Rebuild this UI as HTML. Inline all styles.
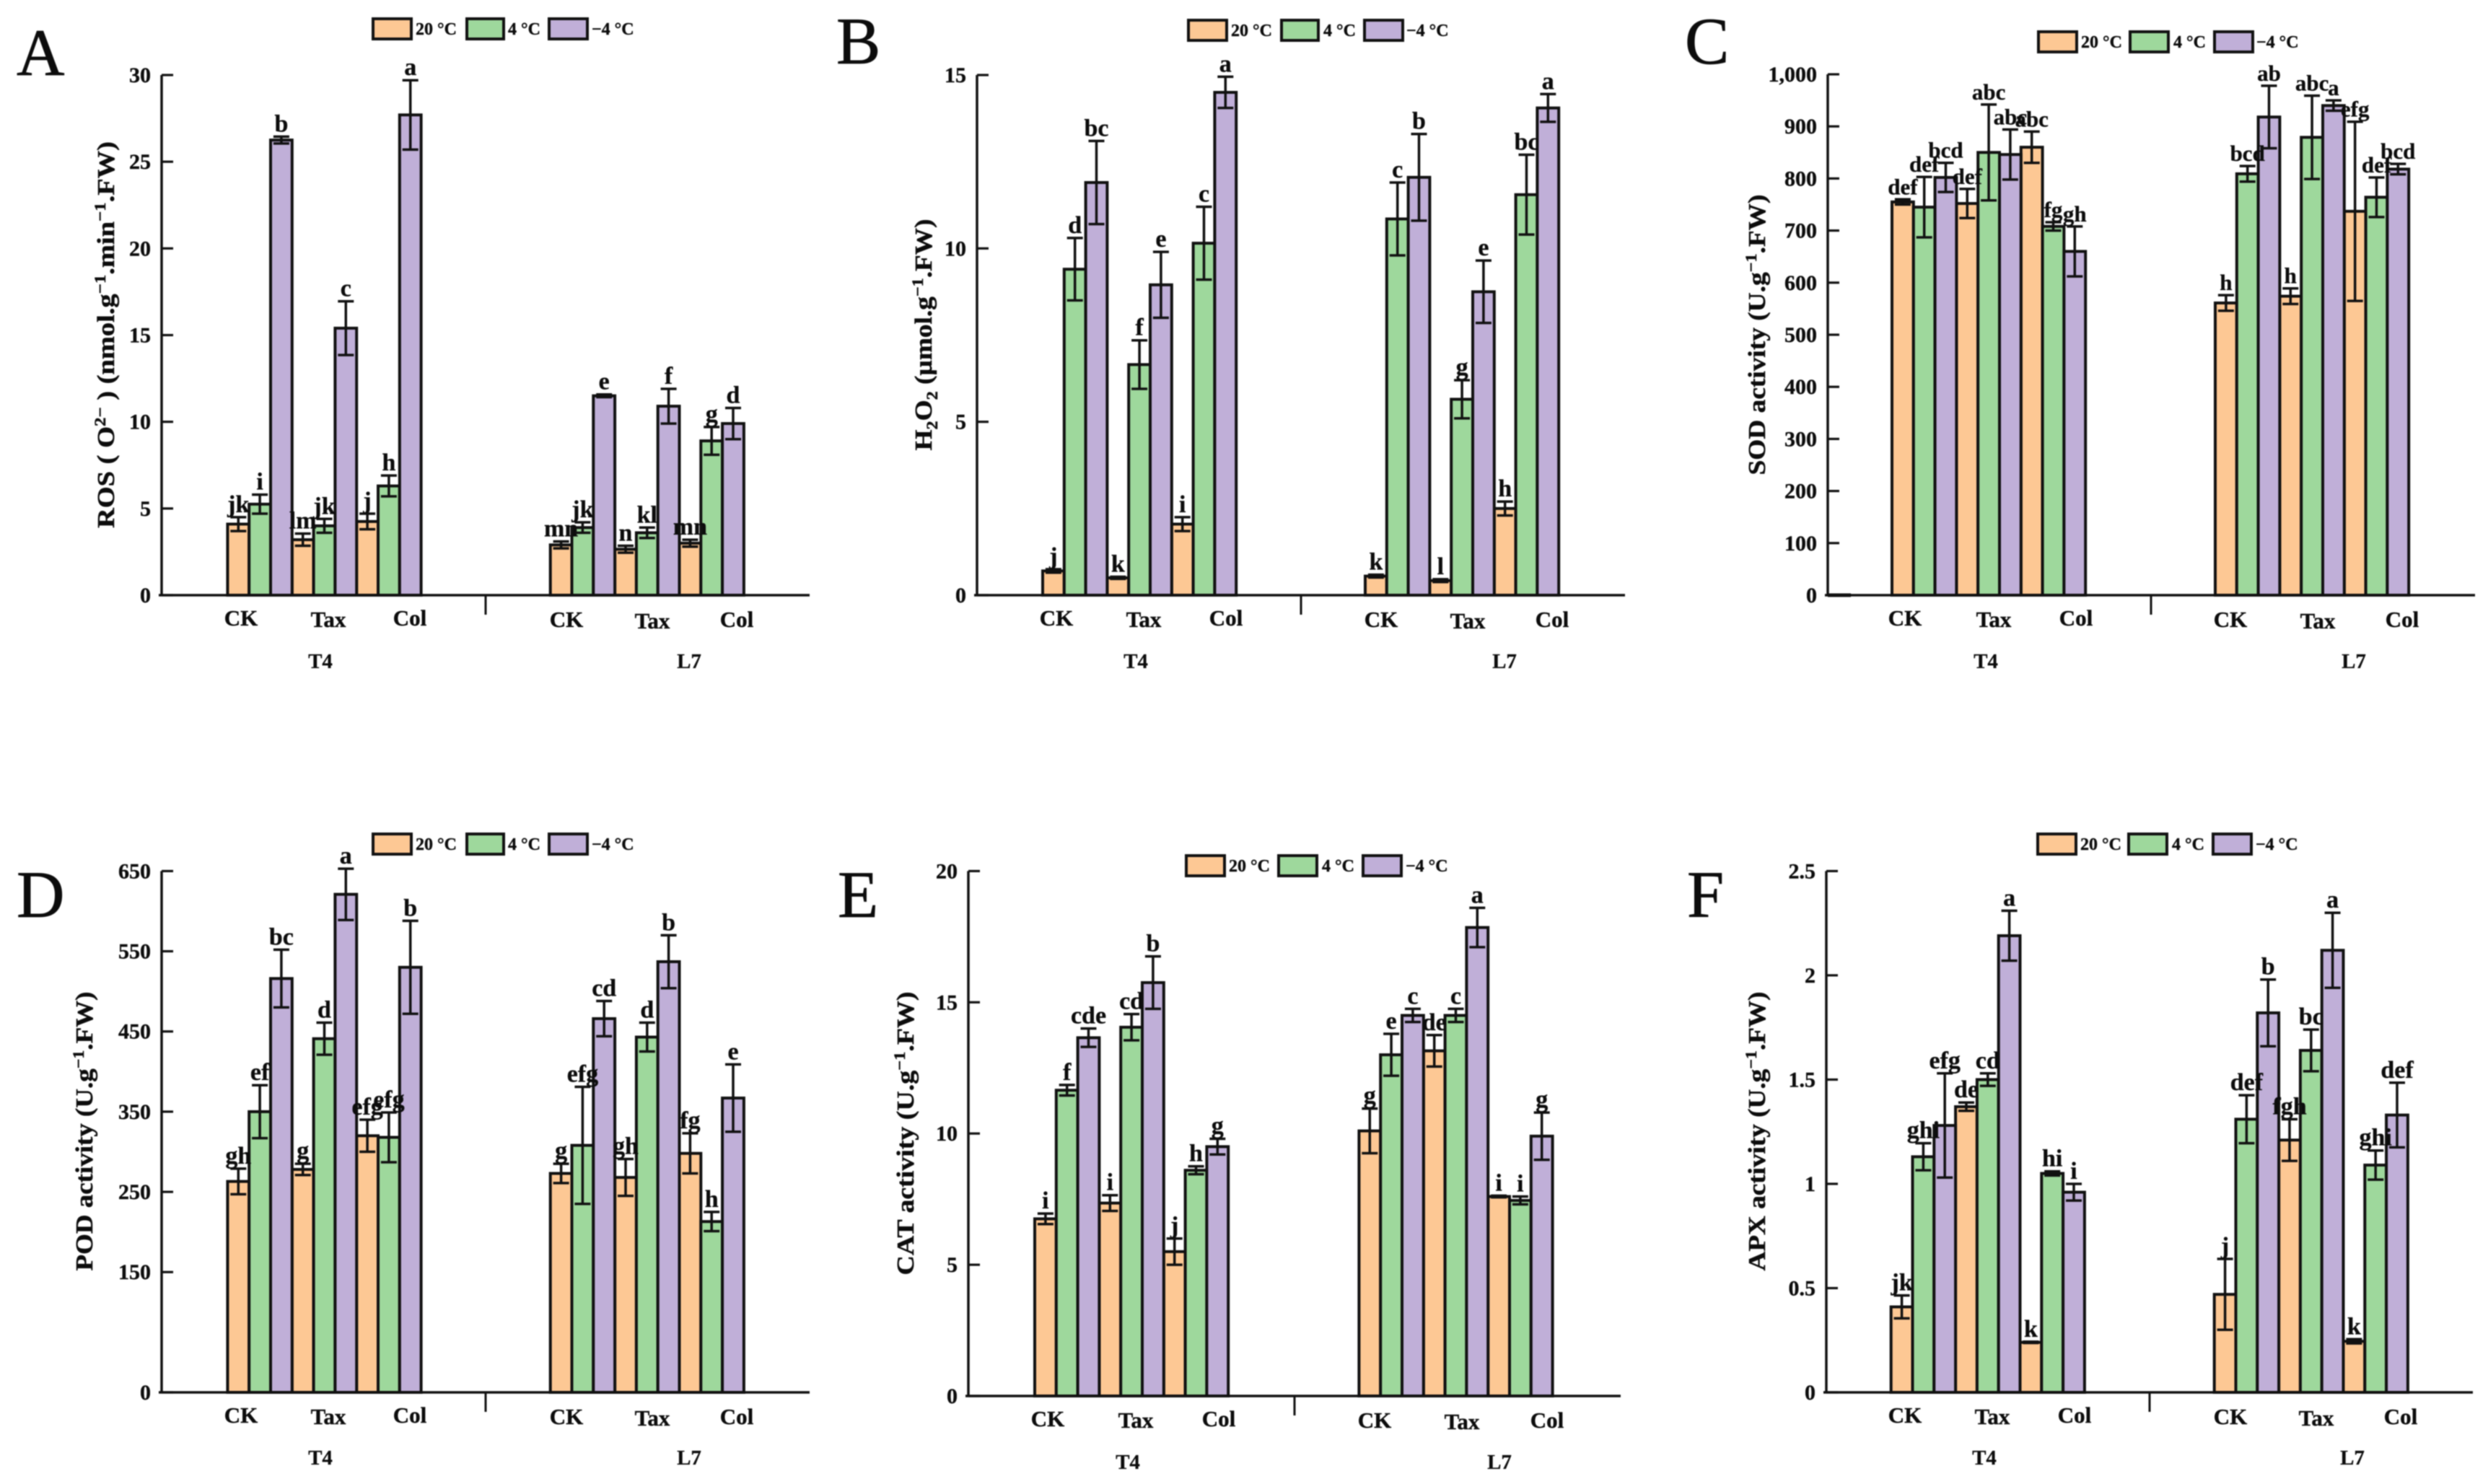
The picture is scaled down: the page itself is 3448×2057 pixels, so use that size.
<!DOCTYPE html>
<html lang="en">
<head>
<meta charset="utf-8">
<title>Antioxidant responses of T4 and L7 under cold treatments</title>
<style>
html,body{margin:0;padding:0;background:#fff;}
#figure{display:block;width:3448px;height:2057px;filter:blur(0.8px);}
text{font-family:"Liberation Serif",serif;fill:#0c0c0c;}
.panel-letter{font-size:92px;font-weight:400;stroke:#111;stroke-width:.8px;}
.cat{font-size:31px;font-weight:700;text-anchor:middle;stroke:#111;stroke-width:.4px;}
.grp{font-size:29px;font-weight:700;text-anchor:middle;stroke:#111;stroke-width:.3px;}
.leg{font-size:24px;font-weight:700;stroke:#111;stroke-width:.4px;}
.ytitle{font-size:34px;font-weight:700;text-anchor:middle;stroke:#111;stroke-width:.5px;}
.sup{font-size:22px;}
.tick-label{font-size:30px;font-weight:700;text-anchor:end;stroke:#111;stroke-width:.4px;}
.sig{font-weight:700;text-anchor:middle;stroke:#111;stroke-width:.3px;}
.sw{stroke:#111;stroke-width:4;}
.c20{fill:#fdc894;}.c4{fill:#9ed89c;}.cm4{fill:#c0afd8;}
</style>
</head>
<body>
<svg id="figure" xmlns="http://www.w3.org/2000/svg" width="3448" height="2057" viewBox="0 0 3448 2057">
<rect width="3448" height="2057" fill="#fff"/>

<g id="panel-a">
<text class="panel-letter" x="23" y="104">A</text>
<g>
<rect class="sw c20" x="517" y="26" width="53" height="28"/><text class="leg" x="576" y="48">20 °C</text>
<rect class="sw c4" x="647" y="26" width="51" height="28"/><text class="leg" x="704" y="48">4 °C</text>
<rect class="sw cm4" x="761" y="26" width="53" height="28"/><text class="leg" x="820" y="48">−4 °C</text>
</g>
<text class="ytitle" transform="translate(158,464) rotate(-90)" textLength="536" lengthAdjust="spacingAndGlyphs">ROS ( O<tspan class="sup" dy="-12">2−</tspan><tspan dy="12"> )  (nmol.g</tspan><tspan class="sup" dy="-12">−1</tspan><tspan dy="12">.min</tspan><tspan class="sup" dy="-12">−1</tspan><tspan dy="12">.FW)</tspan></text>
<text class="cat" x="334" y="867">CK</text>
<text class="cat" x="455" y="869">Tax</text>
<text class="cat" x="568" y="867">Col</text>
<text class="cat" x="785" y="869">CK</text>
<text class="cat" x="904" y="871">Tax</text>
<text class="cat" x="1021" y="869">Col</text>
<text class="grp" x="444" y="926">T4</text>
<text class="grp" x="955" y="926">L7</text>
</g>

<g id="panel-b">
<text class="panel-letter" x="1159" y="88">B</text>
<g>
<rect class="sw c20" x="1647" y="28" width="53" height="28"/><text class="leg" x="1706" y="50">20 °C</text>
<rect class="sw c4" x="1776" y="28" width="51" height="28"/><text class="leg" x="1834" y="50">4 °C</text>
<rect class="sw cm4" x="1891" y="28" width="53" height="28"/><text class="leg" x="1949" y="50">−4 °C</text>
</g>
<text class="ytitle" transform="translate(1291,464) rotate(-90)" textLength="321" lengthAdjust="spacingAndGlyphs">H<tspan class="sup" dy="8">2</tspan><tspan dy="-8">O</tspan><tspan class="sup" dy="8">2</tspan><tspan dy="-8"> (µmol.g</tspan><tspan class="sup" dy="-12">−1</tspan><tspan dy="12">.FW)</tspan></text>
<text class="cat" x="1464" y="867">CK</text>
<text class="cat" x="1585" y="869">Tax</text>
<text class="cat" x="1699" y="867">Col</text>
<text class="cat" x="1914" y="869">CK</text>
<text class="cat" x="2034" y="871">Tax</text>
<text class="cat" x="2151" y="869">Col</text>
<text class="grp" x="1574" y="926">T4</text>
<text class="grp" x="2085" y="926">L7</text>
</g>

<g id="panel-c">
<text class="panel-letter" x="2335" y="88">C</text>
<g>
<rect class="sw c20" x="2825" y="44" width="53" height="28"/><text class="leg" x="2884" y="66">20 °C</text>
<rect class="sw c4" x="2952" y="44" width="53" height="28"/><text class="leg" x="3012" y="66">4 °C</text>
<rect class="sw cm4" x="3069" y="44" width="53" height="28"/><text class="leg" x="3127" y="66">−4 °C</text>
</g>
<text class="ytitle" transform="translate(2446,464) rotate(-90)" textLength="389" lengthAdjust="spacingAndGlyphs">SOD activity (U.g<tspan class="sup" dy="-12">−1</tspan><tspan dy="12">.FW)</tspan></text>
<text class="cat" x="2640" y="867">CK</text>
<text class="cat" x="2763" y="869">Tax</text>
<text class="cat" x="2877" y="867">Col</text>
<text class="cat" x="3091" y="869">CK</text>
<text class="cat" x="3212" y="871">Tax</text>
<text class="cat" x="3329" y="869">Col</text>
<text class="grp" x="2752" y="926">T4</text>
<text class="grp" x="3262" y="926">L7</text>
<line x1="2533" y1="825" x2="2565" y2="825" stroke="#111" stroke-width="5"/>
</g>

<g id="panel-d">
<text class="panel-letter" x="23" y="1271">D</text>
<g>
<rect class="sw c20" x="517" y="1156" width="53" height="28"/><text class="leg" x="576" y="1178">20 °C</text>
<rect class="sw c4" x="647" y="1156" width="51" height="28"/><text class="leg" x="704" y="1178">4 °C</text>
<rect class="sw cm4" x="761" y="1156" width="53" height="28"/><text class="leg" x="820" y="1178">−4 °C</text>
</g>
<text class="ytitle" transform="translate(128,1568) rotate(-90)" textLength="387" lengthAdjust="spacingAndGlyphs">POD activity (U.g<tspan class="sup" dy="-12">−1</tspan><tspan dy="12">.FW)</tspan></text>
<text class="cat" x="334" y="1972">CK</text>
<text class="cat" x="455" y="1974">Tax</text>
<text class="cat" x="568" y="1972">Col</text>
<text class="cat" x="785" y="1974">CK</text>
<text class="cat" x="904" y="1976">Tax</text>
<text class="cat" x="1021" y="1974">Col</text>
<text class="grp" x="444" y="2030">T4</text>
<text class="grp" x="955" y="2030">L7</text>
</g>

<g id="panel-e">
<text class="panel-letter" x="1161" y="1271">E</text>
<g>
<rect class="sw c20" x="1644" y="1186" width="53" height="28"/><text class="leg" x="1703" y="1208">20 °C</text>
<rect class="sw c4" x="1772" y="1186" width="53" height="28"/><text class="leg" x="1832" y="1208">4 °C</text>
<rect class="sw cm4" x="1889" y="1186" width="53" height="28"/><text class="leg" x="1948" y="1208">−4 °C</text>
</g>
<text class="ytitle" transform="translate(1266,1571) rotate(-90)" textLength="393" lengthAdjust="spacingAndGlyphs">CAT activity (U.g<tspan class="sup" dy="-12">−1</tspan><tspan dy="12">.FW)</tspan></text>
<text class="cat" x="1452" y="1977">CK</text>
<text class="cat" x="1574" y="1979">Tax</text>
<text class="cat" x="1689" y="1977">Col</text>
<text class="cat" x="1905" y="1979">CK</text>
<text class="cat" x="2026" y="1981">Tax</text>
<text class="cat" x="2144" y="1979">Col</text>
<text class="grp" x="1563" y="2036">T4</text>
<text class="grp" x="2078" y="2036">L7</text>
</g>

<g id="panel-f">
<text class="panel-letter" x="2338" y="1271">F</text>
<g>
<rect class="sw c20" x="2824" y="1156" width="53" height="28"/><text class="leg" x="2883" y="1178">20 °C</text>
<rect class="sw c4" x="2950" y="1156" width="53" height="28"/><text class="leg" x="3010" y="1178">4 °C</text>
<rect class="sw cm4" x="3067" y="1156" width="53" height="28"/><text class="leg" x="3126" y="1178">−4 °C</text>
</g>
<text class="ytitle" transform="translate(2446,1568) rotate(-90)" textLength="387" lengthAdjust="spacingAndGlyphs">APX activity (U.g<tspan class="sup" dy="-12">−1</tspan><tspan dy="12">.FW)</tspan></text>
<text class="cat" x="2640" y="1972">CK</text>
<text class="cat" x="2761" y="1974">Tax</text>
<text class="cat" x="2875" y="1972">Col</text>
<text class="cat" x="3091" y="1974">CK</text>
<text class="cat" x="3210" y="1976">Tax</text>
<text class="cat" x="3327" y="1974">Col</text>
<text class="grp" x="2750" y="2030">T4</text>
<text class="grp" x="3260" y="2030">L7</text>
</g>
</svg>

<script>
// Values order in every array: T4-CK, T4-Tax, T4-Col, L7-CK, L7-Tax, L7-Col
const rosTicks = [0, 5, 10, 15, 20, 25, 30];
const rosMean20 = [4.1, 3.2, 4.25, 2.9, 2.65, 3.0];
const rosMean4 = [5.25, 4.0, 6.3, 3.9, 3.6, 8.9];
const rosMeanM4 = [26.25, 15.4, 27.7, 11.5, 10.9, 9.9];
const rosErr20 = [0.4, 0.35, 0.45, 0.2, 0.2, 0.2];
const rosErr4 = [0.55, 0.4, 0.6, 0.3, 0.3, 0.8];
const rosErrM4 = [0.2, 1.55, 2.0, 0.08, 1.0, 0.9];
const rosSig20 = ['jk', 'lm', 'j', 'mn', 'n', 'mn'];
const rosSig4 = ['i', 'jk', 'h', 'jk', 'kl', 'g'];
const rosSigM4 = ['b', 'c', 'a', 'e', 'f', 'd'];

const h2o2Ticks = [0, 5, 10, 15];
const h2o2Mean20 = [0.7, 0.5, 2.05, 0.55, 0.42, 2.5];
const h2o2Mean4 = [9.4, 6.65, 10.15, 10.85, 5.65, 11.55];
const h2o2MeanM4 = [11.9, 8.95, 14.5, 12.05, 8.75, 14.05];
const h2o2Err20 = [0.05, 0.03, 0.2, 0.04, 0.04, 0.2];
const h2o2Err4 = [0.9, 0.7, 1.05, 1.05, 0.55, 1.15];
const h2o2ErrM4 = [1.2, 0.95, 0.45, 1.25, 0.9, 0.4];
const h2o2Sig20 = ['j', 'k', 'i', 'k', 'l', 'h'];
const h2o2Sig4 = ['d', 'f', 'c', 'c', 'g', 'bc'];
const h2o2SigM4 = ['bc', 'e', 'a', 'b', 'e', 'a'];

const sodTicks = [0, 100, 200, 300, 400, 500, 600, 700, 800, 900, 1000];
const sodMean20 = [755, 752, 860, 561, 574, 737];
const sodMean4 = [745, 850, 708, 809, 879, 764];
const sodMeanM4 = [802, 846, 660, 918, 940, 818];
const sodErr20 = [5, 28, 30, 15, 15, 172];
const sodErr4 = [58, 92, 8, 15, 80, 38];
const sodErrM4 = [28, 48, 48, 60, 10, 10];
const sodSig20 = ['def', 'def', 'abc', 'h', 'h', 'efg'];
const sodSig4 = ['def', 'abc', 'fg', 'bcd', 'abc', 'def'];
const sodSigM4 = ['bcd', 'abc', 'gh', 'ab', 'a', 'bcd'];

const podTicks = [0, 150, 250, 350, 450, 550, 650];
const podMean20 = [263, 278, 320, 273, 268, 298];
const podMean4 = [350, 441, 318, 308, 443, 213];
const podMeanM4 = [516, 621, 530, 466, 537, 367];
const podErr20 = [16, 7, 20, 12, 23, 25];
const podErr4 = [33, 20, 31, 73, 18, 12];
const podErrM4 = [36, 32, 58, 22, 33, 42];
const podSig20 = ['gh', 'g', 'efg', 'g', 'gh', 'fg'];
const podSig4 = ['ef', 'd', 'efg', 'efg', 'd', 'h'];
const podSigM4 = ['bc', 'a', 'b', 'cd', 'b', 'e'];

const catTicks = [0, 5, 10, 15, 20];
const catMean20 = [6.75, 7.35, 5.5, 10.1, 13.15, 7.6];
const catMean4 = [11.65, 14.05, 8.6, 13.0, 14.5, 7.45];
const catMeanM4 = [13.65, 15.75, 9.5, 14.5, 17.85, 9.9];
const catErr20 = [0.2, 0.3, 0.5, 0.85, 0.6, 0.03];
const catErr4 = [0.2, 0.5, 0.15, 0.8, 0.25, 0.15];
const catErrM4 = [0.35, 1.0, 0.3, 0.25, 0.75, 0.9];
const catSig20 = ['i', 'i', 'j', 'g', 'de', 'i'];
const catSig4 = ['f', 'cd', 'h', 'e', 'c', 'i'];
const catSigM4 = ['cde', 'b', 'g', 'c', 'a', 'g'];

const apxTicks = [0, 0.5, 1, 1.5, 2, 2.5];
const apxMean20 = [0.41, 1.37, 0.24, 0.47, 1.21, 0.245];
const apxMean4 = [1.13, 1.5, 1.05, 1.31, 1.64, 1.09];
const apxMeanM4 = [1.28, 2.19, 0.96, 1.82, 2.12, 1.33];
const apxErr20 = [0.055, 0.02, 0.003, 0.17, 0.1, 0.01];
const apxErr4 = [0.065, 0.03, 0.01, 0.115, 0.1, 0.07];
const apxErrM4 = [0.25, 0.12, 0.04, 0.16, 0.18, 0.155];
const apxSig20 = ['jk', 'de', 'k', 'j', 'fgh', 'k'];
const apxSig4 = ['ghi', 'cd', 'hi', 'def', 'bc', 'ghi'];
const apxSigM4 = ['efg', 'a', 'i', 'b', 'a', 'def'];

const SVG_NS = 'http://www.w3.org/2000/svg';
const seriesFill = ['#fdc894', '#9ed89c', '#c0afd8'];
const INK = '#111';

function make(parent, tag, attrs) {
  const el = document.createElementNS(SVG_NS, tag);
  for (const k in attrs) el.setAttribute(k, attrs[k]);
  parent.appendChild(el);
  return el;
}

function drawPanel(frame, ticks, means, errs, sigs) {
  const root = document.getElementById(frame.id);
  const yMax = ticks[ticks.length - 1];
  const yScale = function (v) { return frame.y0 - (v / yMax) * (frame.y0 - frame.yTop); };
  const xScale = function (idx, s) {
    const g = idx < 3 ? 0 : 1;
    const t = idx < 3 ? idx : idx - 3;
    return frame.starts[g] + (t * 3 + s) * frame.barW;
  };

  means.forEach(function (series, s) {
    series.forEach(function (v, i) {
      const x = xScale(i, s);
      const el = make(root, 'rect', { x: x, y: yScale(v), width: frame.barW, height: frame.y0 - yScale(v), fill: seriesFill[s], stroke: INK, 'stroke-width': 4 });
      
      
    });
  });

  means.forEach(function (series, s) {
    series.forEach(function (v, i) {
      const cx = xScale(i, s) + frame.barW / 2;
      const hi = yScale(v + errs[s][i]);
      const lo = yScale(v - errs[s][i]);
      const el = make(root, 'path', { d: 'M' + cx + ' ' + hi + 'V' + lo + 'M' + (cx - 11) + ' ' + hi + 'H' + (cx + 11) + 'M' + (cx - 11) + ' ' + lo + 'H' + (cx + 11), fill: 'none', stroke: INK, 'stroke-width': 3.5 });
      
      
      const label = make(root, 'text', { class: 'sig', x: cx, y: hi - 7 });
      label.style.fontSize = frame.sigSize + 'px';
      label.textContent = sigs[s][i];
      
      
    });
  });

  const yAxis = make(root, 'line', { x1: frame.axisX, y1: frame.yTop, x2: frame.axisX, y2: frame.y0, stroke: INK, 'stroke-width': 3.5 });
  
  

  const xAxis = make(root, 'line', { x1: frame.axisX - 4, y1: frame.y0, x2: frame.xEnd, y2: frame.y0, stroke: INK, 'stroke-width': 3.5 });
  
  

  const divider = make(root, 'line', { x1: frame.sep, y1: frame.y0, x2: frame.sep, y2: frame.y0 + 27, stroke: INK, 'stroke-width': 3 });
  
  

  ticks.forEach(function (v) {
    const y = yScale(v);
    const tick = make(root, 'line', { x1: frame.axisX, y1: y, x2: frame.axisX + 16, y2: y, stroke: INK, 'stroke-width': 3.2 });
    
    
    const label = make(root, 'text', { class: 'tick-label', x: frame.axisX - 15, y: y + 10 });
    label.textContent = v.toLocaleString('en-US');
    
    
  });
}

drawPanel({ id: 'panel-a', axisX: 224, yTop: 104, y0: 825, xEnd: 1122, starts: [315.4, 762.7], barW: 29.8, sep: 673, sigSize: 34 }, rosTicks, [rosMean20, rosMean4, rosMeanM4], [rosErr20, rosErr4, rosErrM4], [rosSig20, rosSig4, rosSigM4]);
drawPanel({ id: 'panel-b', axisX: 1354, yTop: 104, y0: 825, xEnd: 2252, starts: [1445, 1892], barW: 29.8, sep: 1803, sigSize: 34 }, h2o2Ticks, [h2o2Mean20, h2o2Mean4, h2o2MeanM4], [h2o2Err20, h2o2Err4, h2o2ErrM4], [h2o2Sig20, h2o2Sig4, h2o2SigM4]);
drawPanel({ id: 'panel-c', axisX: 2533, yTop: 103, y0: 825, xEnd: 3430, starts: [2622, 3070], barW: 29.8, sep: 2981, sigSize: 31 }, sodTicks, [sodMean20, sodMean4, sodMeanM4], [sodErr20, sodErr4, sodErrM4], [sodSig20, sodSig4, sodSigM4]);
drawPanel({ id: 'panel-d', axisX: 224, yTop: 1207.4, y0: 1930, xEnd: 1122, starts: [315.4, 762.7], barW: 29.8, sep: 673, sigSize: 34 }, podTicks, [podMean20, podMean4, podMeanM4], [podErr20, podErr4, podErrM4], [podSig20, podSig4, podSigM4]);
drawPanel({ id: 'panel-e', axisX: 1342, yTop: 1207.4, y0: 1935, xEnd: 2246, starts: [1434, 1883.4], barW: 29.8, sep: 1794, sigSize: 34 }, catTicks, [catMean20, catMean4, catMeanM4], [catErr20, catErr4, catErrM4], [catSig20, catSig4, catSigM4]);
drawPanel({ id: 'panel-f', axisX: 2531, yTop: 1207.4, y0: 1930, xEnd: 3427, starts: [2620.7, 3068.7], barW: 29.8, sep: 2979, sigSize: 34 }, apxTicks, [apxMean20, apxMean4, apxMeanM4], [apxErr20, apxErr4, apxErrM4], [apxSig20, apxSig4, apxSigM4]);
</script>
</body>
</html>
